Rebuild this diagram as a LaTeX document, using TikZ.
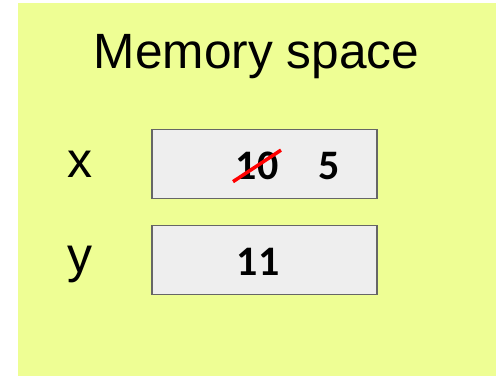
\documentclass[tikz,border=0pt]{standalone}
\usepackage{fontspec}
\setmainfont{Liberation Sans}
\newfontfamily\angkafont{Carlito}
\usetikzlibrary{positioning}
\definecolor{latar}{RGB}{238,254,148}
\definecolor{isikotak}{RGB}{238,238,238}
\definecolor{garis}{RGB}{102,102,102}

\begin{document}
\begin{tikzpicture}[
    x=1pt, y=-1pt,
    node distance=25.5pt,
    kotak/.style={draw=garis, line width=1.5pt, fill=isikotak, minimum width=225pt,
                  minimum height=69pt, inner sep=0pt},
    judul/.style={font=\fontsize{49.6}{58}\selectfont, anchor=base, inner sep=0pt},
    nama/.style={font=\fontsize{50}{60}\selectfont, anchor=base, inner sep=0pt},
    angka/.style={font=\angkafont\bfseries\fontsize{42}{50}\selectfont, anchor=base, inner sep=0pt},
    coret/.style={red, line width=3.5pt, shorten <=-3pt, shorten >=-3pt}
  ]
    \useasboundingbox (0,0) rectangle (496,376);
    \fill[latar] (18,3) rectangle (496,376);
    \node[judul] (judul) at (256.5,68) {Memory space};
    \node[kotak] (memx) at (264.5,164) {};
    \node[kotak, below=of memx] (memy) {};
    \node[nama] (namax) at (79.5,177.5) {x};
    \node[nama] (namay) at (79.5,272) {y};
    \node[angka] (lama) at (257,179.5) {10};
    \node[angka] (baru) at (329,179.5) {5};
    \node[angka] (nilaiy) at (258,275) {11};
    \draw[coret] (lama.south west) -- (lama.north east);
  \end{tikzpicture}
\end{document}
